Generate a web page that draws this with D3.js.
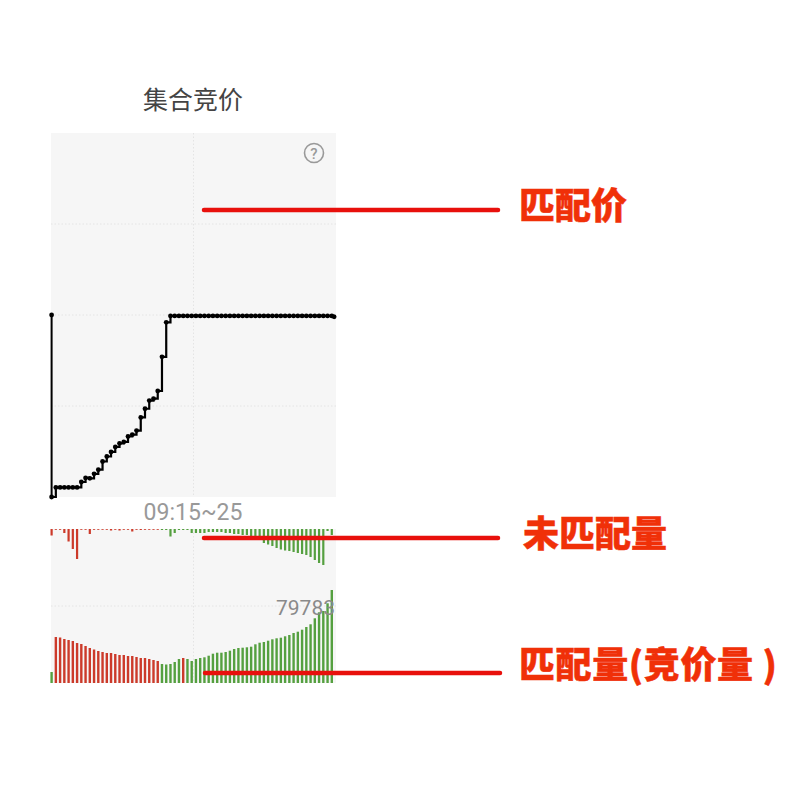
<!DOCTYPE html>
<html><head><meta charset="utf-8">
<script src="https://cdn.jsdelivr.net/npm/d3@7/dist/d3.min.js"></script>
<style>html,body{margin:0;background:#fff}svg{display:block}</style></head>
<body><div id="c"></div>
<script>
const barIndex = d3.range(67);
const openLevel = 0.0;
const matchPrice = [
 -2.0,-1.895,-1.895,-1.895,-1.895,-1.895,-1.895,-1.835,-1.79,-1.795,
 -1.745,-1.70,-1.61,-1.555,-1.505,-1.45,-1.41,-1.395,-1.335,-1.315,
 -1.27,-1.125,-1.03,-0.94,-0.92,-0.835,-0.46,-0.08,-0.01,-0.01,
 -0.01,-0.01,-0.01,-0.01,-0.01,-0.01,-0.01,-0.01,-0.01,-0.01,
 -0.01,-0.01,-0.01,-0.01,-0.01,-0.01,-0.01,-0.01,-0.01,-0.01,
 -0.01,-0.01,-0.01,-0.01,-0.01,-0.01,-0.01,-0.01,-0.01,-0.01,
 -0.01,-0.01,-0.01,-0.01,-0.01,-0.01,-0.01];
const lastPriceIndex = 66.55;
const lastPrice = -0.02;
const unmatched = [
 -6.5,-0.8,-0.8,-4,-12.5,-20,-30,-0.8,-0.8,-5,
 -0.8,-0.8,-0.8,-0.8,-1.5,-0.8,-1.5,-0.8,-0.8,-2.5,
 -0.8,-1,-0.8,-0.8,-0.8,-0.8,1,1,7.5,4,
 1,1,1,4,4,4,4,3,3,3,
 3,4,4,5,5,6,6,7,7,8,
 14,15.5,17,19,20.5,21.5,22,23,24,25,
 26,28,31,34,36,2,6];
const matchedVol = [
 11,46,45.5,44,43,42,40,39,37,35,
 33.5,32,31,30,30,29,28,28,27,27,
 26,25,25,24,23,22,19,18.5,19,21,
 24,25,24,22,24,25,25.7,27.3,29.3,30.3,
 30.3,31,32.3,34,35,35.3,35.7,36.3,38.7,40.3,
 41,42.3,43.7,44.7,45.3,46.7,48,50,51.3,53.3,
 56,58.7,64.7,70.7,72,79.7,93];
const barUp = [
 0,1,1,1,1,1,1,1,1,1,
 1,1,1,1,1,1,1,1,1,1,
 1,1,1,1,1,1,0,0,0,0,
 0,1,0,0,0,0,0,0,0,0,
 0,0,0,0,0,0,0,0,0,0,
 0,0,0,0,0,0,0,0,0,0,
 0,0,0,0,0,0,0];
const title = "集合竞价";
const timeLabel = "09:15~25";
const maxLabel = 79783;
const annotations = ["匹配价","未匹配量","匹配量(竞价量 )"];

const W=800,H=800,FONT='"Noto Sans CJK SC","Noto Sans",sans-serif';
const svg=d3.select("#c").append("svg").attr("width",W).attr("height",H);
const L=51,R=336;
const x=d3.scaleLinear().domain([0,66]).range([51.6,331.8]);
const yP=d3.scaleLinear().domain([-2,2]).range([497,133]);
const yV=d3.scaleLinear().domain([0,93]).range([683,590]);
const yU=d3.scaleLinear().domain([0,36]).range([529,565]);
const green="#55a040",red="#cc3a2a";

svg.append("rect").attr("x",L).attr("y",133).attr("width",R-L).attr("height",364).attr("fill","#f6f6f6");
svg.append("rect").attr("x",L).attr("y",529).attr("width",R-L).attr("height",154).attr("fill","#f6f6f6");

const grid=svg.append("g").attr("stroke","#e4e4e4").attr("stroke-width",1).attr("stroke-dasharray","1.5 2").attr("fill","none");
[-1,0,1].forEach(v=>grid.append("line").attr("x1",L).attr("x2",R).attr("y1",yP(v)).attr("y2",yP(v)));
grid.append("line").attr("x1",L).attr("x2",R).attr("y1",606).attr("y2",606);
grid.append("line").attr("x1",193.5).attr("x2",193.5).attr("y1",133).attr("y2",497);
grid.append("line").attr("x1",193.5).attr("x2",193.5).attr("y1",529).attr("y2",683);

// price
const pts=[...barIndex.map(i=>[i,matchPrice[i]]),[lastPriceIndex,lastPrice]];
const line=d3.line().x(d=>x(d[0])).y(d=>yP(d[1])).curve(d3.curveStepAfter);
svg.append("path").attr("d",d3.line().x(d=>x(d[0])).y(d=>yP(d[1]))([[0,openLevel],[0,matchPrice[0]]])).attr("stroke","#000").attr("stroke-width",2).attr("fill","none");
svg.append("path").attr("d",line(pts)).attr("stroke","#000").attr("stroke-width",2.2).attr("fill","none");
svg.append("g").selectAll("circle").data([[0,openLevel],...pts]).join("circle").attr("cx",d=>x(d[0])).attr("cy",d=>yP(d[1])).attr("r",2.4).attr("fill","#000");

// unmatched bars
svg.append("g").selectAll("rect").data(barIndex).join("rect")
 .attr("x",i=>x(i)-1.1).attr("width",2.2).attr("y",529)
 .attr("height",i=>yU(Math.abs(unmatched[i]))-529)
 .attr("fill",i=>unmatched[i]<0?red:green);
// matched bars
svg.append("g").selectAll("rect").data(barIndex).join("rect")
 .attr("x",i=>x(i)-1.2).attr("width",2.4).attr("y",i=>yV(matchedVol[i]))
 .attr("height",i=>683-yV(matchedVol[i]))
 .attr("fill",i=>barUp[i]?red:green);

// texts
svg.append("text").attr("x",193).attr("y",109).attr("text-anchor","middle").attr("font-family",FONT).attr("font-size",25).attr("fill","#444").text(title);
svg.append("text").attr("x",193).attr("y",520).attr("text-anchor","middle").attr("font-family",'Roboto,sans-serif').attr("font-size",23).attr("fill","#999").text(timeLabel);
svg.append("text").attr("x",335).attr("y",615).attr("text-anchor","end").attr("font-family",'Roboto,sans-serif').attr("font-size",21).attr("fill","#8a8a8a").text(maxLabel);
svg.append("circle").attr("cx",314).attr("cy",153).attr("r",9.5).attr("fill","none").attr("stroke","#999").attr("stroke-width",1.6);
svg.append("text").attr("x",314).attr("y",158.5).attr("text-anchor","middle").attr("font-family",'Roboto,sans-serif').attr("font-size",15).attr("font-weight",500).attr("fill","#999").text("?");

// annotations
[[204,498,210],[204,498,538],[205,500,673]].forEach(a=>svg.append("line").attr("x1",a[0]).attr("x2",a[1]).attr("y1",a[2]).attr("y2",a[2]).attr("stroke","#e8100c").attr("stroke-width",4.5).attr("stroke-linecap","round"));
[[519,219,36,0],[523,547,36,0],[519,678,36,0.6]].forEach((p,i)=>svg.append("text").attr("x",p[0]).attr("y",p[1]).attr("font-family",FONT).attr("font-size",p[2]).attr("letter-spacing",p[3]).attr("font-weight",900).attr("fill","#f03008").attr("stroke","#f03008").attr("stroke-width",0.5).text(annotations[i]));
</script></body></html>
